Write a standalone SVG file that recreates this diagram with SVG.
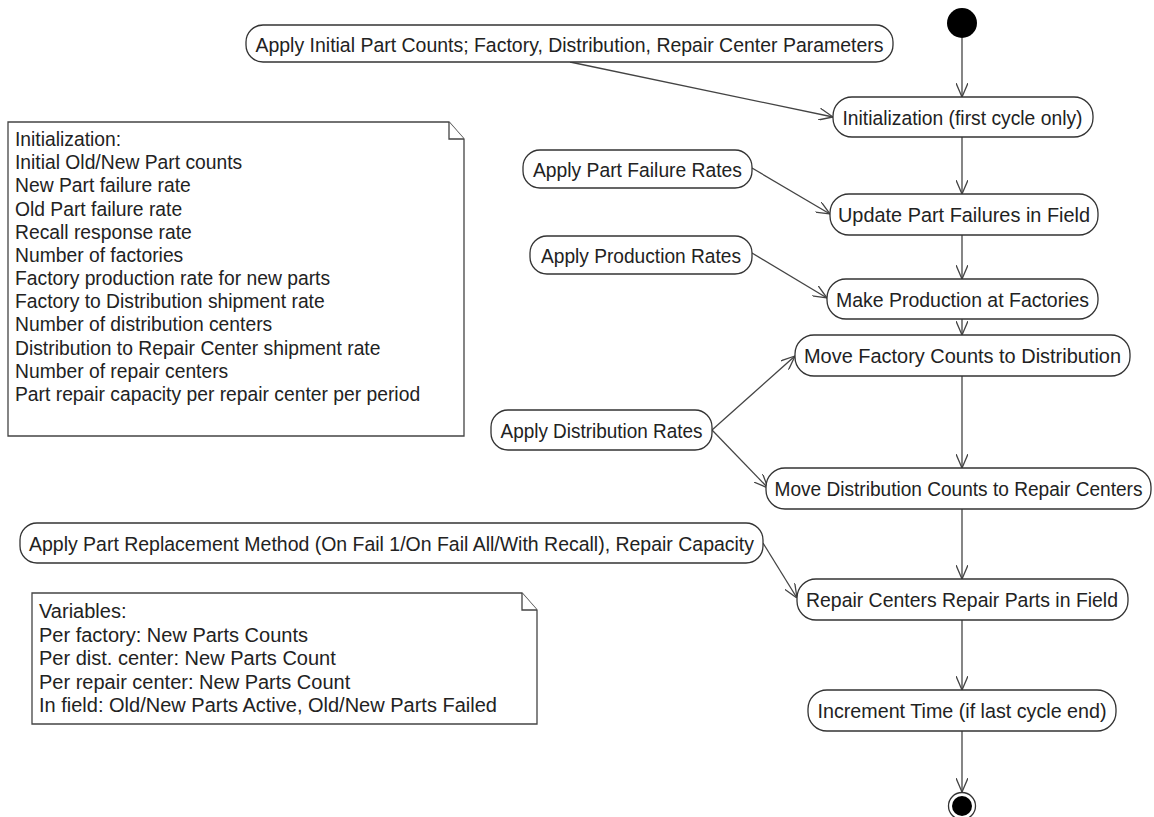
<svg xmlns="http://www.w3.org/2000/svg" width="1154" height="817" viewBox="0 0 1154 817">
  <style>
    .act { fill: #ffffff; stroke: #333333; stroke-width: 1.3; }
    .note { fill: #ffffff; stroke: #444444; stroke-width: 1.3; }
    .lbl { font-family: "Liberation Sans", Arial, sans-serif; font-size: 20.5px; fill: #222222; text-anchor: middle; dominant-baseline: central; }
    .ntxt { font-family: "Liberation Sans", Arial, sans-serif; font-size: 19.3px; fill: #222222; }
    .vtxt { font-family: "Liberation Sans", Arial, sans-serif; font-size: 20px; fill: #222222; }
    .flow { stroke: #444444; stroke-width: 1.3; fill: none; marker-end: url(#open); }
  </style>
  <defs>
    <marker id="open" viewBox="0 0 14 12" refX="14" refY="6" markerWidth="14" markerHeight="12" markerUnits="userSpaceOnUse" orient="auto">
      <path d="M0,0 L14,6 L0,12" fill="none" stroke="#444444" stroke-width="1.3"/>
    </marker>
  </defs>

  <rect width="1154" height="817" fill="#ffffff"/>

  <!-- connectors -->
  <g id="connectors">
    <line class="flow" x1="962" y1="38" x2="962" y2="97"/>
    <line class="flow" x1="570" y1="62" x2="833" y2="117"/>
    <line class="flow" x1="962" y1="137" x2="962" y2="194"/>
    <line class="flow" x1="752" y1="168" x2="830" y2="214"/>
    <line class="flow" x1="962" y1="235" x2="962" y2="279"/>
    <line class="flow" x1="752" y1="253" x2="827" y2="298"/>
    <line class="flow" x1="962" y1="319" x2="962" y2="335"/>
    <line class="flow" x1="712" y1="430" x2="795" y2="356"/>
    <line class="flow" x1="712" y1="430" x2="768" y2="488"/>
    <line class="flow" x1="962" y1="376" x2="962" y2="468"/>
    <line class="flow" x1="962" y1="509" x2="962" y2="579"/>
    <line class="flow" x1="763" y1="543" x2="797" y2="598"/>
    <line class="flow" x1="962" y1="620" x2="962" y2="690"/>
    <line class="flow" x1="962" y1="731" x2="962" y2="792"/>
  </g>

  <!-- start / end -->
  <g id="start"><circle cx="962" cy="23" r="15" fill="#000000"/></g>
  <g id="end">
    <circle cx="962" cy="806" r="13.5" fill="#ffffff" stroke="#333333" stroke-width="1.3"/>
    <circle cx="962" cy="806" r="10" fill="#000000"/>
  </g>

  <!-- input actions -->
  <g id="apply-initial">
    <rect class="act" x="246" y="25" width="647" height="37" rx="17"/>
    <text class="lbl" x="569.5" y="44" textLength="628" lengthAdjust="spacingAndGlyphs">Apply Initial Part Counts; Factory, Distribution, Repair Center Parameters</text>
  </g>
  <g id="apply-failure">
    <rect class="act" x="523" y="150" width="229" height="38" rx="17"/>
    <text class="lbl" x="637.5" y="169" textLength="209" lengthAdjust="spacingAndGlyphs">Apply Part Failure Rates</text>
  </g>
  <g id="apply-production">
    <rect class="act" x="530" y="236" width="222" height="38" rx="17"/>
    <text class="lbl" x="641" y="255" textLength="200" lengthAdjust="spacingAndGlyphs">Apply Production Rates</text>
  </g>
  <g id="apply-distribution">
    <rect class="act" x="491" y="410" width="221" height="40" rx="17"/>
    <text class="lbl" x="601.5" y="430" textLength="202" lengthAdjust="spacingAndGlyphs">Apply Distribution Rates</text>
  </g>
  <g id="apply-replacement">
    <rect class="act" x="20" y="523" width="743" height="40" rx="17"/>
    <text class="lbl" x="391.5" y="543" textLength="725" lengthAdjust="spacingAndGlyphs">Apply Part Replacement Method (On Fail 1/On Fail All/With Recall), Repair Capacity</text>
  </g>

  <!-- main cycle -->
  <g id="initialization">
    <rect class="act" x="833" y="97" width="260" height="40" rx="19"/>
    <text class="lbl" x="962.5" y="117" textLength="240" lengthAdjust="spacingAndGlyphs">Initialization (first cycle only)</text>
  </g>
  <g id="update-failures">
    <rect class="act" x="830" y="194" width="268" height="41" rx="19"/>
    <text class="lbl" x="964" y="214.5" textLength="252" lengthAdjust="spacingAndGlyphs">Update Part Failures in Field</text>
  </g>
  <g id="make-production">
    <rect class="act" x="827" y="279" width="271" height="40" rx="19"/>
    <text class="lbl" x="962.5" y="299" textLength="253" lengthAdjust="spacingAndGlyphs">Make Production at Factories</text>
  </g>
  <g id="move-factory">
    <rect class="act" x="795" y="335" width="335" height="41" rx="19"/>
    <text class="lbl" x="962.5" y="355.5" textLength="317" lengthAdjust="spacingAndGlyphs">Move Factory Counts to Distribution</text>
  </g>
  <g id="move-distribution">
    <rect class="act" x="766" y="468" width="385" height="41" rx="19"/>
    <text class="lbl" x="958.5" y="488.5" style="font-size:19.5px" textLength="368" lengthAdjust="spacingAndGlyphs">Move Distribution Counts to Repair Centers</text>
  </g>
  <g id="repair-parts">
    <rect class="act" x="797" y="579" width="331" height="41" rx="19"/>
    <text class="lbl" x="962" y="599.5" textLength="312" lengthAdjust="spacingAndGlyphs">Repair Centers Repair Parts in Field</text>
  </g>
  <g id="increment-time">
    <rect class="act" x="808" y="690" width="308" height="41" rx="19"/>
    <text class="lbl" x="962" y="710.5" textLength="289" lengthAdjust="spacingAndGlyphs">Increment Time (if last cycle end)</text>
  </g>

  <!-- notes -->
  <g id="note-initialization">
    <path class="note" d="M8,122 H449 L464,139 V436 H8 Z"/>
    <path class="note" d="M449,122 V139 H464" fill="none"/>
    <text class="ntxt">
      <tspan x="15" y="146">Initialization:</tspan>
      <tspan x="15" y="169">Initial Old/New Part counts</tspan>
      <tspan x="15" y="192">New Part failure rate</tspan>
      <tspan x="15" y="216">Old Part failure rate</tspan>
      <tspan x="15" y="239">Recall response rate</tspan>
      <tspan x="15" y="262">Number of factories</tspan>
      <tspan x="15" y="285">Factory production rate for new parts</tspan>
      <tspan x="15" y="308">Factory to Distribution shipment rate</tspan>
      <tspan x="15" y="331">Number of distribution centers</tspan>
      <tspan x="15" y="355">Distribution to Repair Center shipment rate</tspan>
      <tspan x="15" y="378">Number of repair centers</tspan>
      <tspan x="15" y="401">Part repair capacity per repair center per period</tspan>
    </text>
  </g>
  <g id="note-variables">
    <path class="note" d="M32,593 H522 L537,610 V724 H32 Z"/>
    <path class="note" d="M522,593 V610 H537" fill="none"/>
    <text class="vtxt">
      <tspan x="39" y="618">Variables:</tspan>
      <tspan x="39" y="642">Per factory: New Parts Counts</tspan>
      <tspan x="39" y="665">Per dist. center: New Parts Count</tspan>
      <tspan x="39" y="689">Per repair center: New Parts Count</tspan>
      <tspan x="39" y="712">In field: Old/New Parts Active, Old/New Parts Failed</tspan>
    </text>
  </g>
</svg>
